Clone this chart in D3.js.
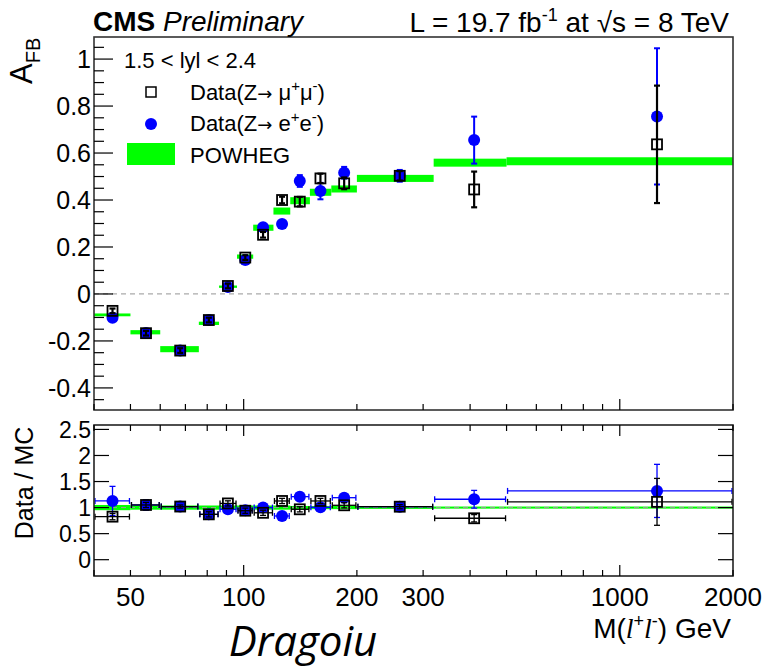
<!DOCTYPE html>
<html>
<head>
<meta charset="utf-8">
<script src="https://cdn.jsdelivr.net/npm/d3@7"></script>
<style>
  body { margin: 0; background: #fff; }
  svg text { font-family: "Liberation Sans", Arial, sans-serif; fill: #000; }
</style>
</head>
<body>
<div id="chart"></div>
<script>
// bin edges in GeV
const massEdges = [40, 50, 60, 76, 86, 96, 106, 120, 133, 150, 171, 200, 320, 500, 2000];
// mean mass per bin (where the points sit)
const massPoint = [44.8, 55.0, 67.8, 80.8, 90.8, 101, 112.6, 126.5, 141, 160, 185, 260, 410, 1256];

const powhegAfb = [-0.089, -0.163, -0.235, -0.125, 0.031, 0.159, 0.282, 0.353, 0.397, 0.433, 0.447, 0.492, 0.559, 0.565];
const powhegErr = [0.006, 0.009, 0.013, 0.007, 0.005, 0.009, 0.013, 0.015, 0.015, 0.015, 0.015, 0.015, 0.017, 0.017];

const muAfb = [-0.072, -0.167, -0.241, -0.111, 0.034, 0.155, 0.252, 0.400, 0.393, 0.492, 0.471, 0.503, 0.445, 0.637];
const muErr = [0.01, 0.01, 0.01, 0.01, 0.01, 0.01, 0.012, 0.014, 0.02, 0.02, 0.025, 0.02, 0.076, 0.25];
const eAfb = [-0.101, -0.166, -0.241, -0.111, 0.030, 0.145, 0.284, 0.298, 0.481, 0.438, 0.516, 0.503, 0.655, 0.756];
const eErr = [0.012, 0.012, 0.012, 0.012, 0.012, 0.012, 0.015, 0.015, 0.025, 0.035, 0.025, 0.025, 0.1, 0.29];

const muRatio = [0.826, 1.05, 1.02, 0.87, 1.08, 0.94, 0.90, 1.127, 0.967, 1.127, 1.044, 1.017, 0.795, 1.11];
const muRatioErr = [0.06, 0.05, 0.03, 0.05, 0.05, 0.05, 0.05, 0.05, 0.05, 0.05, 0.05, 0.04, 0.07, 0.45];
const eRatio = [1.127, 1.05, 1.02, 0.87, 0.967, 0.95, 1.0, 0.839, 1.21, 1.005, 1.19, 1.017, 1.16, 1.32];
const eRatioErr = [0.28, 0.1, 0.04, 0.08, 0.04, 0.04, 0.04, 0.04, 0.04, 0.06, 0.05, 0.04, 0.17, 0.51];
const ratioBand = [0.05, 0.04, 0.04, 0.04, 0.04, 0.04, 0.04, 0.04, 0.03, 0.03, 0.03, 0.025, 0.02, 0.02];

const xLabels = [50, 100, 200, 300, 1000, 2000];
const topTicks = [-0.4, -0.2, 0, 0.2, 0.4, 0.6, 0.8, 1];
const ratioTicks = [0, 0.5, 1, 1.5, 2, 2.5];

const W = 765, H = 668;
const left = 94, right = 733;
const top1 = 37, bot1 = 410, top2 = 425, bot2 = 576;
const green = "#00ff00", blue = "#0000ff";

const svg = d3.select("#chart").append("svg")
    .attr("width", W).attr("height", H);

const x = d3.scaleLog().domain([40, 2000]).range([left, right]);
const y = d3.scaleLinear().domain([-0.494, 1.094]).range([bot1, top1]);
const yr = d3.scaleLinear().domain([-0.313, 2.585]).range([bot2, top2]);

const bins = massPoint.map((m, i) => ({i, m, lo: massEdges[i], hi: massEdges[i + 1]}));

// all log ticks for x
const minorX = [];
[10, 100, 1000].forEach(d => { for (let k = 1; k < 10; k++) { const v = d * k; if (v >= 40 && v <= 2000) minorX.push(v); } });

function xTicks(g, yBase, dir) {
    g.selectAll(null).data(minorX).enter().append("line")
        .attr("x1", d => x(d)).attr("x2", d => x(d))
        .attr("y1", yBase)
        .attr("y2", d => yBase + dir * ((d === 100 || d === 1000) ? 11 : 6))
        .attr("stroke", "#000").attr("stroke-width", 1.2);
}

// ---------- top panel ----------
const p1 = svg.append("g");

// zero line
p1.append("line").attr("x1", left).attr("x2", right)
    .attr("y1", y(0)).attr("y2", y(0))
    .attr("stroke", "#aaa").attr("stroke-dasharray", "5,4").attr("stroke-width", 1.2);

// POWHEG bands
p1.append("g").selectAll("rect").data(bins).enter().append("rect")
    .attr("x", d => x(d.lo)).attr("width", d => x(d.hi) - x(d.lo))
    .attr("y", d => y(powhegAfb[d.i] + powhegErr[d.i]))
    .attr("height", d => y(powhegAfb[d.i] - powhegErr[d.i]) - y(powhegAfb[d.i] + powhegErr[d.i]))
    .attr("fill", green);

function errBars(g, vals, errs, ys, color, w) {
    const eg = g.append("g").attr("stroke", color).attr("stroke-width", w);
    eg.selectAll(null).data(bins).enter().append("line")
        .attr("x1", d => x(d.m)).attr("x2", d => x(d.m))
        .attr("y1", d => ys(vals[d.i] - errs[d.i])).attr("y2", d => ys(vals[d.i] + errs[d.i]));
    [-1, 1].forEach(s => {
        eg.selectAll(null).data(bins).enter().append("line")
            .attr("x1", d => x(d.m) - 3).attr("x2", d => x(d.m) + 3)
            .attr("y1", d => ys(vals[d.i] + s * errs[d.i])).attr("y2", d => ys(vals[d.i] + s * errs[d.i]));
    });
}

function xErrBars(g, vals, ys, color) {
    const eg = g.append("g").attr("stroke", color).attr("stroke-width", 1.3);
    eg.selectAll(null).data(bins).enter().append("line")
        .attr("x1", d => x(d.lo) + 1).attr("x2", d => x(d.hi) - 1)
        .attr("y1", d => ys(vals[d.i])).attr("y2", d => ys(vals[d.i]));
    ["lo", "hi"].forEach(k => {
        eg.selectAll(null).data(bins).enter().append("line")
            .attr("x1", d => x(d[k]) + (k === "lo" ? 1 : -1)).attr("x2", d => x(d[k]) + (k === "lo" ? 1 : -1))
            .attr("y1", d => ys(vals[d.i]) - 3).attr("y2", d => ys(vals[d.i]) + 3);
    });
}

function circles(g, vals, ys, r) {
    g.append("g").selectAll("circle").data(bins).enter().append("circle")
        .attr("cx", d => x(d.m)).attr("cy", d => ys(vals[d.i])).attr("r", r)
        .attr("fill", blue);
}
function squares(g, vals, ys, s) {
    g.append("g").selectAll("rect").data(bins).enter().append("rect")
        .attr("x", d => x(d.m) - s / 2).attr("y", d => ys(vals[d.i]) - s / 2)
        .attr("width", s).attr("height", s)
        .attr("fill", "none").attr("stroke", "#000").attr("stroke-width", 1.8);
}

errBars(p1, eAfb, eErr, y, blue, 2);
circles(p1, eAfb, y, 6);
errBars(p1, muAfb, muErr, y, "#000", 2.2);
squares(p1, muAfb, y, 10);

// frame + axes
p1.append("rect").attr("x", left).attr("y", top1).attr("width", right - left).attr("height", bot1 - top1)
    .attr("fill", "none").attr("stroke", "#333").attr("stroke-width", 1.6);
xTicks(p1, bot1, -1);

const minorY = d3.range(-0.45, 1.09, 0.05).map(v => +v.toFixed(2));
p1.selectAll(null).data(minorY).enter().append("line")
    .attr("x1", left).attr("x2", d => left + (Math.abs(d * 5 - Math.round(d * 5)) < 1e-6 ? 19 : 10))
    .attr("y1", d => y(d)).attr("y2", d => y(d))
    .attr("stroke", "#000").attr("stroke-width", 1.2);
p1.selectAll(null).data(topTicks).enter().append("text")
    .attr("x", left - 3).attr("y", d => y(d)).attr("dy", "0.36em")
    .attr("text-anchor", "end").attr("font-size", 25)
    .text(d => String(d));

// ---------- lower panel ----------
const p2 = svg.append("g");
p2.append("g").selectAll("rect").data(bins).enter().append("rect")
    .attr("x", d => x(d.lo)).attr("width", d => x(d.hi) - x(d.lo))
    .attr("y", d => yr(1 + ratioBand[d.i]))
    .attr("height", d => yr(1 - ratioBand[d.i]) - yr(1 + ratioBand[d.i]))
    .attr("fill", green);
p2.append("line").attr("x1", left).attr("x2", right)
    .attr("y1", yr(1)).attr("y2", yr(1))
    .attr("stroke", "#999").attr("stroke-dasharray", "5,4").attr("stroke-width", 1);

xErrBars(p2, eRatio, yr, blue);
errBars(p2, eRatio, eRatioErr, yr, blue, 1.3);
circles(p2, eRatio, yr, 6);
xErrBars(p2, muRatio, yr, "#000");
errBars(p2, muRatio, muRatioErr, yr, "#000", 1.3);
squares(p2, muRatio, yr, 10);

p2.append("rect").attr("x", left).attr("y", top2).attr("width", right - left).attr("height", bot2 - top2)
    .attr("fill", "none").attr("stroke", "#222").attr("stroke-width", 1.6);
xTicks(p2, bot2, -1);
xTicks(p2, top2, 1);
p2.selectAll(null).data(ratioTicks).enter().append("line")
    .attr("x1", left).attr("x2", left + 15)
    .attr("y1", d => yr(d)).attr("y2", d => yr(d))
    .attr("stroke", "#000").attr("stroke-width", 1.2);
p2.selectAll(null).data(ratioTicks).enter().append("line")
    .attr("x1", right - 15).attr("x2", right)
    .attr("y1", d => yr(d)).attr("y2", d => yr(d))
    .attr("stroke", "#000").attr("stroke-width", 1.2);
p2.selectAll(null).data(ratioTicks).enter().append("text")
    .attr("x", left - 3).attr("y", d => yr(d)).attr("dy", "0.36em")
    .attr("text-anchor", "end").attr("font-size", 23)
    .text(d => d);

// x labels
svg.selectAll(null).data(xLabels).enter().append("text")
    .attr("x", d => x(d)).attr("y", 606)
    .attr("text-anchor", "middle").attr("font-size", 26)
    .text(d => d);

// ---------- titles ----------
const t1 = svg.append("text").attr("x", 93).attr("y", 31).attr("font-size", 28);
t1.append("tspan").attr("font-weight", "bold").text("CMS ");
t1.append("tspan").attr("font-style", "italic").text("Preliminary");

const t2 = svg.append("text").attr("x", 729).attr("y", 32).attr("font-size", 28).attr("text-anchor", "end");
t2.append("tspan").text("L = 19.7 fb");
t2.append("tspan").attr("dy", -11).attr("font-size", 18).text("-1");
t2.append("tspan").attr("dy", 11).text(" at ");
t2.append("tspan").text("\u221As = 8 TeV");

// y titles
const ya = svg.append("text").attr("transform", "translate(32,84) rotate(-90)").attr("font-size", 31);
ya.append("tspan").text("A");
ya.append("tspan").attr("dy", 8).attr("font-size", 20).text("FB");

svg.append("text").attr("transform", "translate(33,483) rotate(-90)")
    .attr("text-anchor", "middle").attr("font-size", 25).text("Data / MC");

// x title
const xt = svg.append("text").attr("x", 731).attr("y", 638).attr("text-anchor", "end").attr("font-size", 28);
xt.append("tspan").text("M(");
xt.append("tspan").attr("font-style", "italic").attr("font-family", "Liberation Serif, serif").text("l");
xt.append("tspan").attr("dy", -11).attr("font-size", 18).text("+");
xt.append("tspan").attr("dy", 11).attr("font-style", "italic").attr("font-family", "Liberation Serif, serif").text("l");
xt.append("tspan").attr("dy", -11).attr("font-size", 18).text("-");
xt.append("tspan").attr("dy", 11).text(") GeV");

svg.append("text").attr("x", 303).attr("y", 656).attr("text-anchor", "middle")
    .attr("font-size", 42).attr("font-style", "italic")
    .style("font-family", "'Open Sans', sans-serif").text("Dragoiu");

// ---------- legend ----------
const lg = svg.append("g").attr("font-size", 22);
lg.append("text").attr("x", 124).attr("y", 68).text("1.5 < lyl < 2.4");
lg.append("rect").attr("x", 146).attr("y", 87).attr("width", 10).attr("height", 10)
    .attr("fill", "none").attr("stroke", "#000").attr("stroke-width", 1.5);
const l1 = lg.append("text").attr("x", 190).attr("y", 100);
l1.append("tspan").text("Data(Z");
l1.append("tspan").style("font-family", "'DejaVu Sans', sans-serif").attr("font-size", 18).text("\u2192");
l1.append("tspan").text(" \u03bc");
l1.append("tspan").attr("dy", -9).attr("font-size", 15).text("+");
l1.append("tspan").attr("dy", 9).text("\u03bc");
l1.append("tspan").attr("dy", -9).attr("font-size", 15).text("-");
l1.append("tspan").attr("dy", 9).text(")");
lg.append("circle").attr("cx", 151).attr("cy", 124).attr("r", 6).attr("fill", blue);
const l2 = lg.append("text").attr("x", 190).attr("y", 131);
l2.append("tspan").text("Data(Z");
l2.append("tspan").style("font-family", "'DejaVu Sans', sans-serif").attr("font-size", 18).text("\u2192");
l2.append("tspan").text(" e");
l2.append("tspan").attr("dy", -9).attr("font-size", 15).text("+");
l2.append("tspan").attr("dy", 9).text("e");
l2.append("tspan").attr("dy", -9).attr("font-size", 15).text("-");
l2.append("tspan").attr("dy", 9).text(")");
lg.append("rect").attr("x", 127).attr("y", 143).attr("width", 48).attr("height", 22).attr("fill", green);
lg.append("text").attr("x", 190).attr("y", 163).text("POWHEG");
</script>
</body>
</html>
